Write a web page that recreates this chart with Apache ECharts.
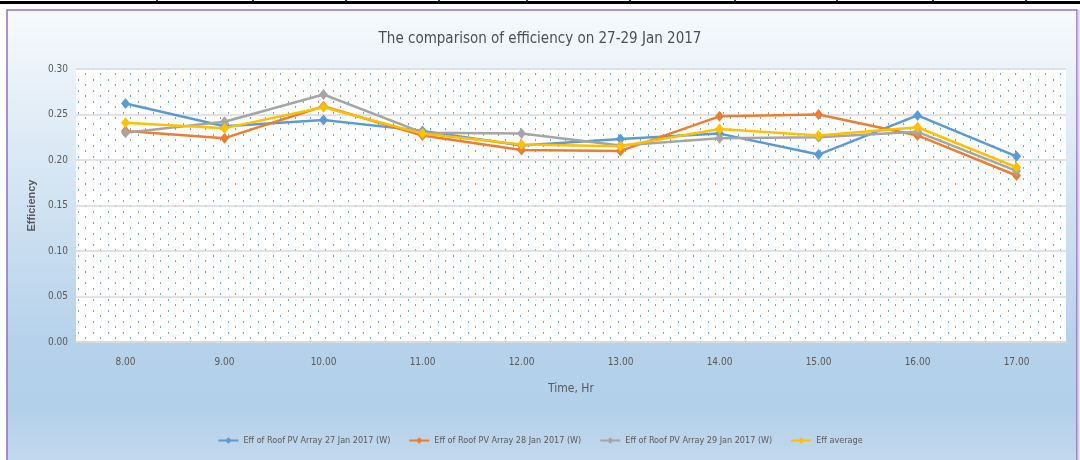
<!DOCTYPE html>
<html>
<head>
<meta charset="utf-8">
<title>Efficiency 27-29 Jan 2017</title>
<script src="https://cdn.jsdelivr.net/npm/echarts@6/dist/echarts.min.js"></script>
<style>
    html, body { margin: 0; padding: 0; background: #fff; }
    #chart_1 { width: 1080px; height: 460px; }
</style>
</head>
<body>
<div id="chart_1"></div>
<script>
var hours = ['8.00', '9.00', '10.00', '11.00', '12.00', '13.00', '14.00', '15.00', '16.00', '17.00'];
var eff27 = [0.262, 0.237, 0.244, 0.232, 0.216, 0.223, 0.229, 0.206, 0.249, 0.204];
var eff28 = [0.232, 0.224, 0.259, 0.227, 0.211, 0.210, 0.248, 0.250, 0.227, 0.183];
var eff29 = [0.230, 0.242, 0.272, 0.230, 0.229, 0.216, 0.224, 0.225, 0.231, 0.188];
var effAvg = [0.241, 0.235, 0.258, 0.229, 0.217, 0.215, 0.234, 0.227, 0.236, 0.192];
var seriesNames = [
    'Eff of Roof PV Array 27 Jan 2017 (W)',
    'Eff of Roof PV Array 28 Jan 2017 (W)',
    'Eff of Roof PV Array 29 Jan 2017 (W)',
    'Eff average'
];
var seriesColors = ['#5b9bd5', '#ed7d31', '#a5a5a5', '#ffc000'];
var yTicks = { min: 0, max: 0.30, interval: 0.05 };

(function () {
    var myChart = echarts.init(document.getElementById('chart_1'));
    var narrow = "'Liberation Sans Narrow', 'DejaVu Sans Condensed', 'Liberation Sans', sans-serif";

    // dotted fill of the plot area
    var pc = document.createElement('canvas');
    pc.width = 15;
    pc.height = 11;
    var ctx = pc.getContext('2d');
    ctx.fillStyle = '#ffffff';
    ctx.fillRect(0, 0, 15, 11);
    ctx.fillStyle = '#6fa6dc';
    ctx.fillRect(3, 2, 1, 2);
    ctx.fillRect(10, 7, 1, 2);

    var allData = [eff27, eff28, eff29, effAvg];
    var series = allData.map(function (d, i) {
        return {
            name: seriesNames[i],
            type: 'line',
            data: d,
            symbol: 'diamond',
            symbolSize: [9, 11],
            lineStyle: { width: 2.5, color: seriesColors[i] },
            itemStyle: { color: seriesColors[i] },
            z: 2 + i
        };
    });

    // black cell border line above the chart
    var topTicks = [157, 253, 346, 439, 527, 630, 735, 837, 933, 1026];
    var deco = [
        {
            type: 'rect', z: -10,
            shape: { x: 7, y: 10, width: 1070, height: 470 },
            style: {
                fill: new echarts.graphic.LinearGradient(0, 0, 0, 1, [
                    { offset: 0, color: '#f7fafd' },
                    { offset: 0.7, color: '#b6d2eb' },
                    { offset: 0.85, color: '#b3d0ea' },
                    { offset: 1, color: '#c9dcef' }
                ]),
                stroke: '#8e6fc0',
                lineWidth: 1.5
            }
        },
        {
            type: 'line', z: -5,
            shape: { x1: 1078.5, y1: 10, x2: 1078.5, y2: 460 },
            style: { stroke: '#dccdf0', lineWidth: 2 }
        },
        {
            type: 'line', z: -5,
            shape: { x1: 0, y1: 2.5, x2: 1080, y2: 2.5 },
            style: { stroke: '#000', lineWidth: 3 }
        }
    ];
    topTicks.forEach(function (x) {
        deco.push({
            type: 'line', z: -5,
            shape: { x1: x, y1: 0, x2: x, y2: 4 },
            style: { stroke: '#000', lineWidth: 1.5 }
        });
    });

    var option = {
        backgroundColor: '#ffffff',
        animation: false,
        color: seriesColors,
        title: {
            text: 'The comparison of efficiency on 27-29 Jan 2017',
            left: 'center',
            top: 27,
            textStyle: {
                fontFamily: narrow,
                fontSize: 15,
                fontWeight: 'normal',
                color: '#48505c'
            }
        },
        graphic: { elements: deco },
        grid: {
            left: 76,
            right: 14,
            top: 69,
            bottom: 118,
            show: true,
            borderWidth: 0,
            backgroundColor: { image: pc, repeat: 'repeat' }
        },
        legend: {
            bottom: 10,
            left: 'center',
            itemWidth: 20,
            itemHeight: 8,
            itemGap: 18,
            data: seriesNames,
            textStyle: {
                fontFamily: narrow,
                fontSize: 9,
                color: '#595959'
            }
        },
        xAxis: {
            type: 'category',
            data: hours,
            boundaryGap: true,
            name: 'Time, Hr',
            nameLocation: 'middle',
            nameGap: 41,
            nameTextStyle: {
                fontFamily: narrow,
                fontSize: 12,
                color: '#595959'
            },
            axisLine: { lineStyle: { color: '#d9d9d9', width: 1.5 } },
            axisTick: { show: false },
            axisLabel: {
                margin: 15,
                fontFamily: narrow,
                fontSize: 10,
                color: '#595959'
            }
        },
        yAxis: {
            type: 'value',
            min: yTicks.min,
            max: yTicks.max,
            interval: yTicks.interval,
            name: 'Efficiency',
            nameLocation: 'middle',
            nameGap: 38,
            nameTextStyle: {
                fontFamily: 'Liberation Sans',
                fontSize: 11,
                fontWeight: 'bold',
                color: '#595959'
            },
            axisLine: { show: false },
            axisTick: { show: false },
            splitLine: { lineStyle: { color: '#d9d9d9', width: 1.5 } },
            axisLabel: {
                margin: 8,
                fontFamily: narrow,
                fontSize: 10,
                color: '#595959',
                formatter: function (v) { return v.toFixed(2); }
            }
        },
        series: series
    };
    myChart.setOption(option);
    window.addEventListener('resize', function () {
        myChart.resize();
    });
})();
</script>
</body>
</html>
